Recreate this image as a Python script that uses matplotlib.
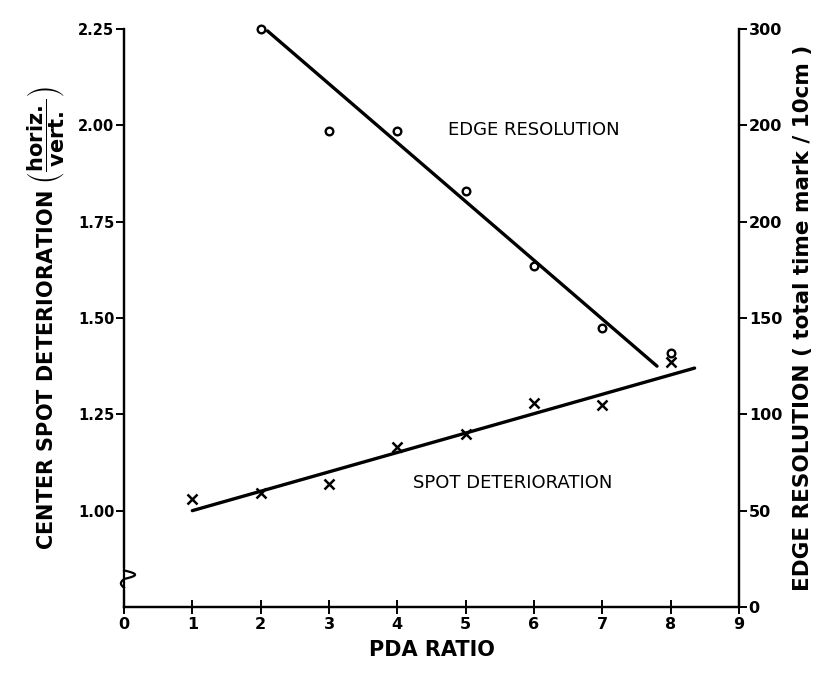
import numpy as np
import matplotlib
matplotlib.use("Agg")
import matplotlib.pyplot as plt

# ---- data ----
pda_ratio = [1, 2, 3, 4, 5, 6, 7, 8]
spot_det = [1.03, 1.045, 1.07, 1.165, 1.20, 1.28, 1.275, 1.385]       # left axis (horiz./vert.)
edge_x = [2, 3, 4, 5, 6, 7, 8]
edge_res = [300, 247, 247, 216, 177, 145, 132]                        # right axis
spot_fit_x = [1.0, 8.35]
spot_fit_y = [1.00, 1.37]
edge_fit_x = [2.1, 7.8]
edge_fit_y = [299, 125]

x_ticks = list(range(10))
left_ticks = [1.00, 1.25, 1.50, 1.75, 2.00, 2.25]
left_labels = ["1.00", "1.25", "1.50", "1.75", "2.00", "2.25"]
right_ticks = [0, 50, 100, 150, 200, 250, 300]
right_labels = ["0", "50", "100", "150", "200", "200", "300"]

plt.rcParams['font.family'] = ['DejaVu Sans']
fig = plt.figure(figsize=(8.26, 6.76), dpi=100)
ax = fig.add_axes([0.1501, 0.1021, 0.7446, 0.855])
ax2 = ax.twinx()

lw_sp = 1.6
for a in (ax, ax2):
    a.spines['top'].set_visible(False)
    for s in a.spines.values():
        s.set_linewidth(lw_sp)

ax.set_xlim(0, 9)
ax.set_ylim(0.75, 2.25)
ax2.set_ylim(0, 300)

# fits and points
ax.plot(spot_fit_x, spot_fit_y, color='black', lw=2.4, solid_capstyle='round')
ax.plot(pda_ratio, spot_det, ls='none', marker='x', ms=6.5, mew=1.8, color='black', clip_on=False)
ax2.plot(edge_fit_x, edge_fit_y, color='black', lw=2.4, solid_capstyle='round', clip_on=False)
ax2.plot(edge_x, edge_res, ls='none', marker='o', ms=5.5, mew=1.7, mfc='none', mec='black',
         clip_on=False)

# ticks
ax.set_xticks(x_ticks)
ax.set_xticklabels([str(v) for v in x_ticks], fontsize=11.5, fontweight='bold')
ax.tick_params(axis='x', direction='inout', length=10, width=1.4, pad=2)
ax.set_yticks(left_ticks)
ax.set_yticklabels(left_labels, fontsize=10.5, fontweight='bold')
ax.tick_params(axis='y', direction='out', length=6, width=1.4, pad=1)
ax2.set_yticks(right_ticks)
ax2.set_yticklabels(right_labels, fontsize=11.5, fontweight='bold')
ax2.tick_params(axis='y', direction='out', length=6, width=1.4, pad=1)

# labels
ax.set_xlabel("PDA RATIO", fontsize=15, fontweight='bold', labelpad=6)
ax.set_ylabel(r"CENTER SPOT DETERIORATION $\left(\dfrac{\mathbf{horiz.}}{\mathbf{vert.}}\right)$",
              fontsize=15, fontweight='bold', labelpad=8)
ax2.set_ylabel("EDGE RESOLUTION ( total time mark / 10cm )", fontsize=15.5,
               fontweight='bold', labelpad=8)

ax2.text(4.74, 247.5, "EDGE RESOLUTION", fontsize=13, va='center', ha='left')
ax.text(4.23, 1.072, "SPOT DETERIORATION", fontsize=13, va='center', ha='left')

# axis break squiggle on left spine
y_top, y_bot = 0.845, 0.800
ax.plot([0, 0], [y_bot, y_top], color='white', lw=3, transform=ax.get_yaxis_transform(),
        clip_on=False, zorder=5)
t = np.linspace(0, 1, 80)
sx = np.where(t < 0.5, 0.018 * np.sin(2 * np.pi * t), 0.005 * np.sin(2 * np.pi * t))
sy = y_top - (y_top - y_bot) * t
ax.plot(sx, sy, color='black', lw=1.6, transform=ax.get_yaxis_transform(), clip_on=False, zorder=6)

fig.savefig("out.png", dpi=100)
